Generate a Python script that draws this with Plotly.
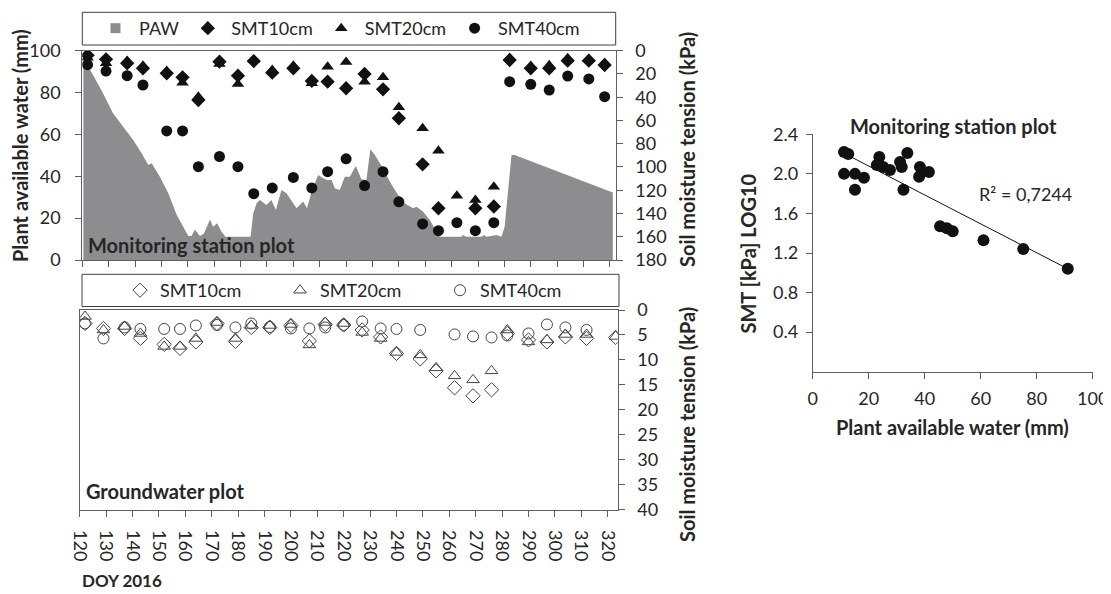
import numpy as np
import plotly.graph_objects as go

# page keeps an 8px body margin, so the figure is drawn 8px in from the corner
OFF = 8
W, H = 1111 - OFF, 594 - OFF

# ---------------- data ----------------
# Monitoring station plot: plant available water (mm) by DOY
paw_doy = [120.4, 122.9, 127.3, 131.7, 135.5, 139.3, 142.5, 145.0, 146.3, 149.4, 152.6, 155.8,
           160.2, 161.4, 162.7, 164.6, 166.1, 168.4, 169.6, 171.1, 172.8, 174.3, 183.8, 184.8,
           186.1, 187.3, 189.8, 191.7, 193.4, 195.5, 197.4, 201.2, 203.7, 205.2, 206.9, 209.4,
           211.3, 212.8, 214.5, 215.7, 217.6, 219.5, 221.4, 223.7, 225.8, 227.7, 229.2, 230.9,
           234.0, 236.6, 239.7, 242.2, 245.4, 246.7, 249.2, 251.7, 255.5, 263.7, 264.3, 265.6,
           271.3, 272.3, 273.2, 277.0, 278.9, 280.1, 282.7, 283.9, 321.1]
paw_val = [93, 91, 81, 70, 63.7, 57.3, 51, 45.4, 46.2, 39.8, 31.9, 21.5,
           11.5, 11.5, 14.6, 11.5, 12.7, 19.4, 15.9, 17.5, 13.5, 11.1, 11.1, 22.3,
           27.1, 28.7, 26.3, 28.7, 23.9, 33.4, 31.9, 24.7, 27.9, 24.7, 32.6, 40.6,
           39.0, 38.2, 38.2, 34.3, 33.4, 39.8, 39.8, 44.9, 38.6, 38.2, 52.9, 50.2,
           43.8, 37.4, 31.1, 27.1, 24.7, 25.5, 23.1, 19.1, 11.1, 11.1, 12.0, 11.1,
           11.1, 12.0, 11.1, 12.0, 11.1, 15.9, 50.2, 50.2, 32.2]

# Monitoring station plot: soil moisture tension (kPa)
doy_ms = [122, 129, 137, 143, 152, 158, 164, 172, 179, 185, 192, 200, 207, 213, 220,
          227, 234, 240, 249, 255, 262, 269, 276, 282, 290, 297, 304, 312, 318]
smt10_ms = [4, 7.4, 10.8, 15.2, 19.5, 22.9, 42.4, 9.4, 21.5, 8.9, 18.9, 15.2, 26, 26.6, 32.3,
            20, 33.2, 58.1, 97.7, 135.5, None, 135.5, 134, 8, 15.2, 15.2, 8.6, 8.6, 12.3]
smt20_ms = [6, 10.8, 8.9, 12.9, 17.5, 27.5, 39.5, 11.4, 28.6, 8, 16.6, 12.9, 28, 13.7, 9.7,
            26.6, 22.9, 48.7, 66.7, 86, 124.7, 128.4, 117, 6.6, 13.2, 12.6, 6.6, 7.4, 10.8]
smt40_ms = [12, 17.5, 21.5, 29.5, 69, 69, 99.7, 91, 99.7, 123, 118, 109, 118, 104, 93,
            116, 104, 130, 149, 154.8, 147.9, 154.8, 147.9, 26.6, 28.9, 33.8, 21.8, 24.3, 39.5]

# Groundwater plot: soil moisture tension (kPa)
doy_gw = [122, 129, 137, 143, 152, 158, 164, 172, 179, 185, 192, 200, 207, 213, 220,
          227, 234, 240, 249, 255, 262, 269, 276, 282, 290, 297, 304, 312, 323]
smt10_gw = [2.7, 3.7, 3.7, 5.7, 6.9, 7.7, 6.4, 2.7, 6.3, 3.5, 3.5, 3.1, 6.2, 2.9, 3.0,
            4.0, 5.4, 8.7, 9.8, 12.2, 15.6, 17.2, 16.0, 4.7, 6.0, 6.4, 5.4, 5.7, 5.5]
smt20_gw = [1.3, 4.0, 3.3, 4.7, 7.3, 7.3, 5.7, 2.5, 5.7, 3.1, 3.1, 2.9, 7.0, 2.5, 2.7,
            4.5, 5.7, 8.5, 9.0, 11.6, 13.2, 14.0, 12.2, 4.0, 6.4, 6.0, 4.9, 4.9, 5.3]
smt40_gw = [2.7, 5.7, 3.5, 3.8, 3.8, 3.8, 3.1, 3.0, 3.5, 2.7, 3.4, 3.7, 3.7, 3.5, 3.0,
            2.3, 3.7, 3.8, 4.0, None, 4.9, 5.3, 5.5, 5.1, 4.7, 2.9, 3.5, 4.0, None]

# Scatter: PAW vs log10(SMT)
sc_paw = [11.2, 12.7, 11.2, 15.1, 15.1, 18.3, 23.8, 22.9, 25.2, 27.6, 31.2, 31.8,
          32.4, 33.8, 38.3, 38.0, 41.5, 45.5, 47.9, 50.0, 61.0, 75.2, 91.1]
sc_log = [2.22, 2.20, 2.00, 2.00, 1.84, 1.96, 2.17, 2.09, 2.07, 2.04, 2.12, 2.07,
          1.84, 2.21, 2.07, 1.97, 2.02, 1.47, 1.45, 1.42, 1.33, 1.24, 1.04]

x_ticks = list(range(120, 321, 10))

# ---------------- helpers (page pixels -> paper fraction) ----------------
def fx(px):
    return (px - OFF) / W


def fy(py):
    return 1 - (py - OFF) / H


FONT = "Lato"
TXT = "#262626"
AX = "#5f5f5f"
BLK = "#111111"
GREY_FILL = "#8d8d8f"

fig = go.Figure()

# PAW area
fig.add_trace(go.Scatter(x=paw_doy, y=paw_val, mode="none", fill="tozeroy",
                         fillcolor=GREY_FILL, name="PAW", showlegend=False,
                         xaxis="x", yaxis="y"))
# legend entry for PAW (square swatch)
fig.add_trace(go.Scatter(x=[None], y=[None], mode="markers", name="PAW",
                         marker=dict(symbol="square", size=10, color=GREY_FILL),
                         xaxis="x", yaxis="y", legend="legend"))
# SMT markers (top)
for vals, sym, nm in [(smt10_ms, "diamond", "SMT10cm"), (smt20_ms, "triangle-up", "SMT20cm"),
                      (smt40_ms, "circle", "SMT40cm")]:
    fig.add_trace(go.Scatter(x=doy_ms, y=vals, mode="markers", name=nm,
                             marker=dict(symbol=sym, size=11, color=BLK, line=dict(width=0)),
                             xaxis="x", yaxis="y2", legend="legend"))
# SMT markers (groundwater)
for vals, sym, nm in [(smt10_gw, "diamond-open", "SMT10cm"), (smt20_gw, "triangle-up-open", "SMT20cm"),
                      (smt40_gw, "circle-open", "SMT40cm")]:
    fig.add_trace(go.Scatter(x=doy_gw, y=vals, mode="markers", name=nm,
                             marker=dict(symbol=sym, size=11, color="#444444", line=dict(width=1)),
                             xaxis="x2", yaxis="y3", legend="legend2"))

# Scatter + trend line
fig.add_trace(go.Scatter(x=sc_paw, y=sc_log, mode="markers", showlegend=False,
                         marker=dict(symbol="circle", size=12, color=BLK),
                         xaxis="x3", yaxis="y4"))
slope, icpt = np.polyfit(sc_paw, sc_log, 1)
xl = np.array([min(sc_paw), max(sc_paw)])
fig.add_trace(go.Scatter(x=xl, y=slope * xl + icpt, mode="lines", showlegend=False,
                         line=dict(color=BLK, width=1), xaxis="x3", yaxis="y4"))

tickfont = dict(family=FONT, size=18, color=TXT)
common = dict(showgrid=False, zeroline=False, showline=True, linecolor=AX, linewidth=1,
              ticks="outside", ticklen=6, tickcolor=AX, tickfont=tickfont, automargin=False)

fig.update_layout(
    width=W, height=H, margin=dict(l=0, r=0, t=0, b=0, autoexpand=False),
    paper_bgcolor="white", plot_bgcolor="rgba(0,0,0,0)",
    font=dict(family=FONT, color=TXT),
    xaxis=dict(domain=[fx(82.3), fx(615.7)], range=[120, 322.2], anchor="y",
               tickvals=x_ticks, showticklabels=False, mirror=True, **common),
    yaxis=dict(domain=[fy(260), fy(50.7)], range=[0, 100], dtick=20, anchor="x",
               ticklabelstandoff=11, **common),
    yaxis2=dict(overlaying="y", side="right", range=[180, 0], dtick=20, anchor="x",
                ticklabelstandoff=9, **common),
    xaxis2=dict(domain=[fx(79.7), fx(617.7)], range=[120, 323.8], anchor="y3",
                tickvals=x_ticks, tickangle=90, mirror=True, ticklabelstandoff=10, **common),
    yaxis3=dict(domain=[fy(509.5), fy(310)], range=[40, 0], dtick=5, side="right",
                anchor="x2", mirror=True, ticklabelstandoff=9, **common),
    xaxis3=dict(domain=[fx(812.7), fx(1092.7)], range=[0, 100], dtick=20, anchor="y4",
                ticklabelstandoff=5, **common),
    yaxis4=dict(domain=[fy(371.7), fy(134.3)], range=[0, 2.4],
                tickvals=[0.4, 0.8, 1.2, 1.6, 2.0, 2.4], ticktext=["0.4", "0.8", "1.2", "1.6", "2.0", "2.4"],
                anchor="x3", ticklabelstandoff=4, **common),
    legend=dict(orientation="h", x=fx(92), y=fy(28.5), xanchor="left", yanchor="middle",
                itemwidth=37, bgcolor="rgba(0,0,0,0)", font=dict(family=FONT, size=18, color=TXT)),
    legend2=dict(orientation="h", x=fx(120), y=fy(290.5), xanchor="left", yanchor="middle",
                 entrywidth=115, entrywidthmode="pixels",
                 bgcolor="rgba(0,0,0,0)", font=dict(family=FONT, size=18, color=TXT)),
)

# legend boxes
fig.add_shape(type="rect", xref="paper", yref="paper", x0=fx(82.3), x1=fx(615.7),
              y0=fy(45), y1=fy(12.3), line=dict(color="#404040", width=1))
fig.add_shape(type="rect", xref="paper", yref="paper", x0=fx(82), x1=fx(619),
              y0=fy(306.5), y1=fy(274.3), line=dict(color="#404040", width=1))

bold = dict(family=FONT, size=20, color=TXT, weight="bold")


def ann(text, x, y, angle=0, xanchor="center", font=None):
    fig.add_annotation(text=text, x=fx(x), y=fy(y), xref="paper", yref="paper",
                       showarrow=False, textangle=angle, xanchor=xanchor, yanchor="middle",
                       font=font or bold)


ann("Plant available water (mm)", 20, 146, angle=-90)
ann("Soil moisture tension (kPa)", 687, 150, angle=-90)
ann("Soil moisture tension (kPa)", 687, 425, angle=-90)
ann("Monitoring station plot", 86, 245, xanchor="left")
ann("Groundwater plot", 84, 491, xanchor="left")
ann("DOY 2016", 80, 580, xanchor="left", font=dict(family=FONT, size=17, color=TXT, weight="bold"))
ann("Monitoring station plot", 953, 126)
ann("R² = 0,7244", 1025, 194, font=dict(family=FONT, size=18, color=TXT))
ann("SMT [kPa] LOG10", 748, 253.5, angle=-90)
ann("Plant available water (mm)", 952, 427)

fig.write_html("out.html")
